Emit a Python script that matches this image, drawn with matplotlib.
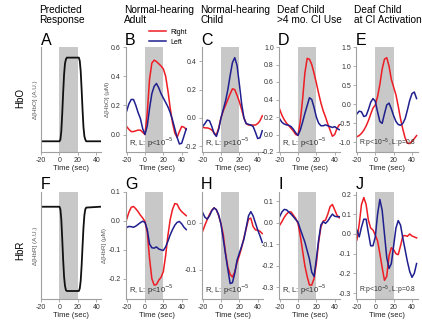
import matplotlib
matplotlib.use("Agg")
import matplotlib.pyplot as plt
from matplotlib.lines import Line2D

plt.rcParams['font.family'] = ['Liberation Sans', 'DejaVu Sans']
plt.rcParams['axes.unicode_minus'] = False

# shared time base for the measured curves (sec)
time = [-20, -17.5, -15, -12.5, -10, -7.5, -5, -2.5, 0, 2.5, 5, 7.5, 10, 12.5,
        15, 17.5, 20, 22.5, 25, 27.5, 30, 32.5, 35, 37.5, 40, 42.5, 45]

# predicted (model) response
pred_time = [-20, 0, 1, 2, 3, 4, 5, 6, 7, 8, 21, 22, 23, 24, 25, 26, 27, 28, 29, 44]
pred_hbo = [0, 0, 0.02, 0.12, 0.33, 0.58, 0.8, 0.93, 0.98, 1.0, 1.0, 0.96, 0.84,
            0.62, 0.38, 0.17, 0.06, 0.02, 0, 0]
pred_hbr = [0, 0, -0.03, -0.15, -0.38, -0.63, -0.83, -0.94, -0.99, -1.0, -1.0,
            -0.97, -0.88, -0.7, -0.47, -0.25, -0.1, -0.03, -0.01, 0]

# HbO, right / left hemisphere
adult_hbo_r = [0.055, 0.035, 0.02, 0.02, 0.025, 0.03, 0.03, 0.015, 0.0, 0.15, 0.38, 0.49, 0.51, 0.50,
               0.485, 0.47, 0.45, 0.40, 0.30, 0.18, 0.08, 0.01, -0.02, 0.02, 0.055, 0.05, 0.035]
adult_hbo_l = [0.16, 0.21, 0.24, 0.24, 0.20, 0.15, 0.11, 0.04, 0.0, 0.06, 0.18, 0.28, 0.33, 0.35,
               0.32, 0.28, 0.25, 0.22, 0.19, 0.15, 0.10, 0.04, -0.02, -0.065, -0.06, -0.01, 0.04]
child_hbo_r = [-0.065, -0.07, -0.07, -0.075, -0.085, -0.105, -0.12, -0.07, 0.0, 0.05, 0.09, 0.13, 0.17,
               0.205, 0.20, 0.16, 0.115, 0.06, 0.0, -0.04, -0.05, -0.05, -0.05, -0.05, -0.04, -0.02, 0.015]
child_hbo_l = [-0.06, -0.04, -0.015, -0.02, -0.06, -0.11, -0.13, -0.08, 0.0, 0.06, 0.12, 0.20, 0.30,
               0.39, 0.425, 0.37, 0.24, 0.10, 0.0, -0.04, -0.045, -0.05, -0.06, -0.10, -0.145, -0.14, -0.09]
ci_hbo_r = [0.29, 0.22, 0.17, 0.13, 0.10, 0.07, 0.04, 0.0, -0.01, 0.15, 0.40, 0.70, 0.87, 0.86,
            0.80, 0.70, 0.59, 0.47, 0.36, 0.27, 0.20, 0.12, 0.05, -0.02, 0.0, 0.07, 0.11]
ci_hbo_l = [0.18, 0.14, 0.12, 0.11, 0.105, 0.09, 0.06, 0.02, -0.01, 0.05, 0.14, 0.24, 0.33, 0.42,
            0.40, 0.31, 0.20, 0.13, 0.10, 0.10, 0.11, 0.10, 0.09, 0.08, 0.09, 0.07, 0.055]
act_hbo_r = [-0.85, -0.82, -0.76, -0.68, -0.57, -0.43, -0.26, -0.1, -0.02, 0.2, 0.52, 0.92, 1.18, 1.22,
             1.0, 0.65, 0.45, 0.25, -0.05, -0.38, -0.65, -0.88, -1.02, -1.03, -0.97, -0.9, -0.82]
act_hbo_l = [-0.25, -0.18, -0.2, -0.32, -0.3, -0.14, 0.05, 0.15, 0.08, -0.2, -0.45, -0.5, -0.25, -0.02,
             0.03, -0.12, -0.3, -0.45, -0.53, -0.55, -0.5, -0.38, -0.15, 0.1, 0.28, 0.32, 0.15]

# HbR, right / left hemisphere
adult_hbr_r = [0.005, 0.03, 0.047, 0.05, 0.042, 0.032, 0.02, 0.01, -0.002, -0.04, -0.13, -0.2, -0.222,
               -0.22, -0.205, -0.195, -0.175, -0.12, -0.05, 0.005, 0.04, 0.06, 0.058, 0.042, 0.032, 0.025, 0.018]
adult_hbr_l = [-0.023, -0.019, -0.02, -0.022, -0.018, -0.012, -0.006, -0.001, -0.005, -0.03, -0.08, -0.093,
               -0.094, -0.09, -0.097, -0.1, -0.102, -0.09, -0.07, -0.048, -0.03, -0.015, -0.005, -0.002,
               -0.01, -0.022, -0.03]
child_hbr_r = [-0.018, -0.005, 0.007, 0.018, 0.027, 0.032, 0.028, 0.015, -0.002, -0.025, -0.065, -0.095,
               -0.11, -0.116, -0.105, -0.085, -0.07, -0.053, -0.032, -0.012, 0.008, 0.01, -0.008, -0.015,
               -0.016, -0.018, -0.023]
child_hbr_l = [0.022, 0.012, 0.008, 0.015, 0.026, 0.032, 0.028, 0.017, -0.003, -0.035, -0.068, -0.1,
               -0.13, -0.128, -0.108, -0.08, -0.065, -0.05, -0.035, -0.01, 0.015, 0.024, 0.015, 0.0,
               -0.015, -0.028, -0.042]
ci_hbr_r = [-0.012, 0.005, 0.025, 0.04, 0.05, 0.05, 0.035, 0.02, -0.003, -0.06, -0.13, -0.2, -0.25, -0.29,
            -0.29, -0.26, -0.19, -0.09, -0.02, 0.008, 0.012, 0.04, 0.075, 0.085, 0.06, 0.035, 0.023]
ci_hbr_l = [0.028, 0.05, 0.062, 0.06, 0.05, 0.04, 0.028, 0.015, 0.003, -0.03, -0.06, -0.09, -0.13, -0.17,
            -0.23, -0.25, -0.17, -0.08, -0.01, 0.005, -0.003, 0.008, 0.025, 0.04, 0.03, 0.028, 0.028]
act_hbr_r = [-0.03, 0.05, 0.15, 0.185, 0.15, 0.07, 0.03, 0.02, -0.005, -0.035, -0.1, -0.17, -0.235, -0.215,
             -0.11, -0.07, -0.08, -0.1, -0.105, -0.06, -0.01, -0.008, -0.012, 0.0, -0.01, -0.015, -0.02]
act_hbr_l = [0.02, -0.015, 0.035, 0.075, 0.075, 0.005, -0.06, -0.06, -0.015, 0.1, 0.175, 0.12, 0.0, -0.12,
             -0.175, -0.15, -0.06, 0.03, 0.068, 0.045, -0.02, -0.08, -0.14, -0.19, -0.22, -0.2, -0.15]

titles = ["Predicted\nResponse", "Normal-hearing\nAdult", "Normal-hearing\nChild",
          "Deaf Child\n>4 mo. CI Use", "Deaf Child\nat CI Activation"]
letters_top = ["A", "B", "C", "D", "E"]
letters_bot = ["F", "G", "H", "I", "J"]
stats = ["R, L: p<10$^{-5}$"] * 3 + ["R:p<10$^{-5}$, L:p=0.8"]
stat_sizes = [5.5, 5.5, 5.5, 4.9]

hbo_right = [adult_hbo_r, child_hbo_r, ci_hbo_r, act_hbo_r]
hbo_left = [adult_hbo_l, child_hbo_l, ci_hbo_l, act_hbo_l]
hbr_right = [adult_hbr_r, child_hbr_r, ci_hbr_r, act_hbr_r]
hbr_left = [adult_hbr_l, child_hbr_l, ci_hbr_l, act_hbr_l]

hbo_ylims = [(-0.12, 0.6), (-0.24, 0.5), (-0.2, 1.0), (-1.25, 1.5)]
hbo_yticks = [[0.0, 0.2, 0.4, 0.6], [-0.2, 0.0, 0.2, 0.4], [-0.2, 0.0, 0.2, 0.4, 0.6, 0.8, 1.0],
              [-1.0, -0.5, 0.0, 0.5, 1.0, 1.5]]
hbr_ylims = [(-0.27, 0.1), (-0.163, 0.066), (-0.355, 0.143), (-0.33, 0.213)]
hbr_yticks = [[-0.2, -0.1, 0.0, 0.1], [-0.1, 0.0], [-0.3, -0.2, -0.1, 0.0, 0.1],
              [-0.3, -0.2, -0.1, 0.0, 0.1, 0.2]]

RED = '#ee1c24'
BLUE = '#1f1f8f'
SHADE = '#c8c8c8'
SPINE = '#a0a0a0'

W, H = 422.0, 324.0
lefts = [41, 125.7, 201.7, 278.7, 356]
widths = [60, 61.5, 61.5, 61.5, 61.5]
top_row = (172, 105)   # bottom, height in pixels
bot_row = (25, 107)

fig = plt.figure(figsize=(4.22, 3.24), dpi=100)


def style_axes(ax, xlim):
    ax.set_xlim(*xlim)
    ax.axvspan(0, 20, color=SHADE, lw=0, zorder=0)
    for s in ['top', 'right']:
        ax.spines[s].set_visible(False)
    for s in ['left', 'bottom']:
        ax.spines[s].set_color(SPINE)
        ax.spines[s].set_linewidth(0.8)
    ax.set_xticks([-20, 0, 20, 40])
    ax.tick_params(labelsize=5, length=2, width=0.6, color=SPINE, pad=1.5, labelcolor='#333333')
    ax.set_xlabel("Time (sec)", fontsize=5.5, labelpad=0.5, color='#222222')


axes_top = []
axes_bot = []
for i in range(5):
    ax1 = fig.add_axes([lefts[i] / W, top_row[0] / H, widths[i] / W, top_row[1] / H])
    ax2 = fig.add_axes([lefts[i] / W, bot_row[0] / H, widths[i] / W, bot_row[1] / H])
    axes_top.append(ax1)
    axes_bot.append(ax2)

# predicted response panels
for ax, y, ylim, lab in [(axes_top[0], pred_hbo, (-0.128, 1.127), "Δ[HbO] (A.U.)"),
                         (axes_bot[0], pred_hbr, (-1.095, 0.175), "Δ[HbR] (A.U.)")]:
    style_axes(ax, (-20, 45))
    ax.plot(pred_time, y, color='#111111', lw=1.3)
    ax.set_ylim(*ylim)
    ax.set_yticks([])
    ax.set_ylabel(lab, fontsize=4.5, labelpad=2, color='#555555')

# measured panels
for i in range(4):
    ax = axes_top[i + 1]
    style_axes(ax, (-21, 46))
    ax.plot(time, hbo_right[i], color=RED, lw=1.1, label="Right")
    ax.plot(time, hbo_left[i], color=BLUE, lw=1.1, label="Left")
    ax.set_ylim(*hbo_ylims[i])
    ax.set_yticks(hbo_yticks[i])
    ax.yaxis.set_major_formatter(matplotlib.ticker.FormatStrFormatter('%.1f'))
    ax.text(0.05, 0.015, stats[i], transform=ax.transAxes, fontsize=stat_sizes[i], color='#333333',
            va='bottom', ha='left')

    ax = axes_bot[i + 1]
    style_axes(ax, (-21, 46))
    ax.plot(time, hbr_right[i], color=RED, lw=1.1)
    ax.plot(time, hbr_left[i], color=BLUE, lw=1.1)
    ax.set_ylim(*hbr_ylims[i])
    ax.set_yticks(hbr_yticks[i])
    ax.yaxis.set_major_formatter(matplotlib.ticker.FormatStrFormatter('%.1f'))
    ax.text(0.05, 0.015, stats[i], transform=ax.transAxes, fontsize=stat_sizes[i], color='#333333',
            va='bottom', ha='left')

axes_top[1].set_ylabel("Δ[HbO] (μM)", fontsize=4.5, labelpad=1, color='#555555')
axes_bot[1].set_ylabel("Δ[HbR] (μM)", fontsize=4.5, labelpad=1, color='#555555')

# titles and panel letters
for i in range(5):
    x = (lefts[i] - 1.5) / W
    fig.text(x, 1 - 5 / H, titles[i], fontsize=7.3, va='top', ha='left', linespacing=1.05)
    fig.text((lefts[i] - 0.5) / W, (H - 45) / H, letters_top[i], fontsize=11.5, va='baseline', ha='left')
    fig.text((lefts[i] - 0.5) / W, (H - 189) / H, letters_bot[i], fontsize=11.5, va='baseline', ha='left')

fig.text(20.5 / W, 1 - 98 / H, "HbO", rotation=90, fontsize=7, va='center', ha='center')
fig.text(20.5 / W, 1 - 250 / H, "HbR", rotation=90, fontsize=7, va='center', ha='center')

handles = [Line2D([], [], color=RED, lw=1.1), Line2D([], [], color=BLUE, lw=1.1)]
fig.legend(handles, ["Right", "Left"], loc='upper left', bbox_to_anchor=(149 / W, 1 - 28.5 / H),
           frameon=False, fontsize=5, handlelength=2.4, handletextpad=0.7,
           labelspacing=0.45, borderpad=0, borderaxespad=0)

fig.savefig("out.png", dpi=100)
